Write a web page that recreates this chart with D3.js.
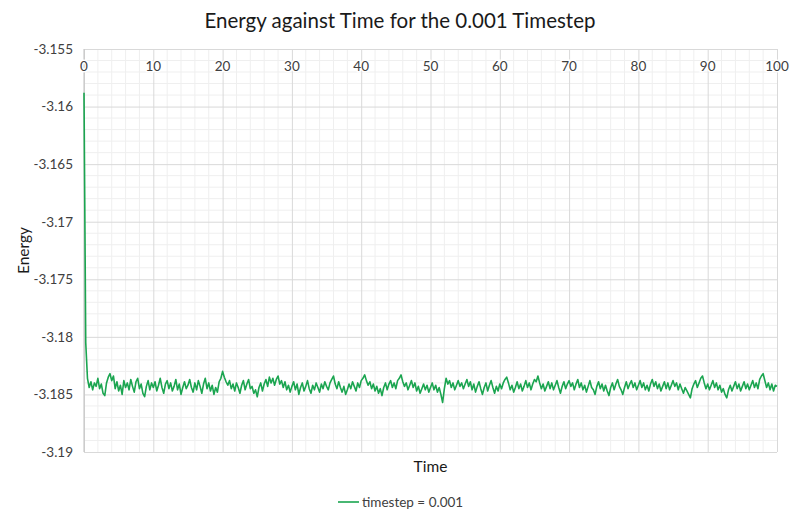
<!DOCTYPE html>
<html>
<head>
<meta charset="utf-8">
<script src="https://cdn.jsdelivr.net/npm/d3@7"></script>
<style>
  body { margin: 0; background: #fff; }
  svg { display: block; font-family: Lato, "Open Sans", sans-serif; }
</style>
</head>
<body>
<div id="chart"></div>
<script>
// ---- data ----
const chartTitle = "Energy against Time for the 0.001 Timestep";
const seriesName = "timestep = 0.001";
const xTicks = [0, 10, 20, 30, 40, 50, 60, 70, 80, 90, 100];
const yTicks = [-3.155, -3.16, -3.165, -3.17, -3.175, -3.18, -3.185, -3.19];
const sampleStep = 0.25; // energy sampled every 0.25 time units, starting at t = 0

const energy = [
  // t 0 - 5
  -3.1588,-3.1805,-3.1836,-3.1844,-3.1839,-3.1846,-3.1840,-3.1843,-3.1836,-3.1845,-3.1841,-3.1849,-3.1851,-3.1840,-3.1835,-3.1832,-3.1838,-3.1834,-3.1845,-3.1839,-3.1847,
  // t 5.25 - 10
  -3.1842,-3.1850,-3.1838,-3.1844,-3.1840,-3.1846,-3.1837,-3.1843,-3.1848,-3.1839,-3.1836,-3.1845,-3.1841,-3.1849,-3.1852,-3.1843,-3.1838,-3.1846,-3.1840,-3.1844,
  // t 10.25 - 15
  -3.1839,-3.1847,-3.1842,-3.1836,-3.1844,-3.1849,-3.1841,-3.1838,-3.1845,-3.1840,-3.1847,-3.1843,-3.1837,-3.1846,-3.1841,-3.1850,-3.1844,-3.1839,-3.1845,-3.1842,
  // t 15.25 - 20
  -3.1837,-3.1844,-3.1848,-3.1840,-3.1846,-3.1838,-3.1843,-3.1849,-3.1841,-3.1836,-3.1845,-3.1840,-3.1847,-3.1842,-3.1850,-3.1844,-3.1848,-3.1839,-3.1836,-3.1830,
  // t 20.25 - 25
  -3.1835,-3.1839,-3.1842,-3.1838,-3.1845,-3.1841,-3.1847,-3.1840,-3.1844,-3.1849,-3.1842,-3.1838,-3.1846,-3.1841,-3.1837,-3.1845,-3.1843,-3.1849,-3.1846,-3.1852,
  // t 25.25 - 30
  -3.1844,-3.1840,-3.1847,-3.1841,-3.1837,-3.1843,-3.1835,-3.1840,-3.1836,-3.1842,-3.1837,-3.1834,-3.1841,-3.1838,-3.1844,-3.1839,-3.1846,-3.1842,-3.1848,-3.1843,
  // t 30.25 - 35
  -3.1839,-3.1846,-3.1841,-3.1850,-3.1844,-3.1840,-3.1847,-3.1843,-3.1838,-3.1845,-3.1849,-3.1842,-3.1846,-3.1840,-3.1844,-3.1848,-3.1841,-3.1845,-3.1839,-3.1843,
  // t 35.25 - 40
  -3.1846,-3.1840,-3.1837,-3.1834,-3.1841,-3.1845,-3.1839,-3.1844,-3.1848,-3.1843,-3.1850,-3.1846,-3.1841,-3.1845,-3.1839,-3.1843,-3.1847,-3.1840,-3.1844,-3.1838,
  // t 40.25 - 45
  -3.1836,-3.1833,-3.1838,-3.1842,-3.1839,-3.1845,-3.1841,-3.1847,-3.1843,-3.1849,-3.1845,-3.1851,-3.1844,-3.1840,-3.1846,-3.1841,-3.1838,-3.1844,-3.1840,-3.1845,
  // t 45.25 - 50
  -3.1838,-3.1836,-3.1833,-3.1839,-3.1843,-3.1840,-3.1846,-3.1842,-3.1838,-3.1844,-3.1840,-3.1847,-3.1843,-3.1849,-3.1845,-3.1841,-3.1846,-3.1842,-3.1848,-3.1844,
  // t 50.25 - 55
  -3.1840,-3.1846,-3.1842,-3.1848,-3.1844,-3.1850,-3.1857,-3.1845,-3.1836,-3.1841,-3.1838,-3.1844,-3.1840,-3.1846,-3.1842,-3.1838,-3.1843,-3.1840,-3.1845,-3.1841,
  // t 55.25 - 60
  -3.1837,-3.1843,-3.1839,-3.1846,-3.1841,-3.1848,-3.1843,-3.1839,-3.1845,-3.1850,-3.1844,-3.1840,-3.1847,-3.1842,-3.1838,-3.1844,-3.1849,-3.1843,-3.1847,-3.1841,
  // t 60.25 - 65
  -3.1845,-3.1840,-3.1837,-3.1835,-3.1840,-3.1846,-3.1842,-3.1848,-3.1844,-3.1839,-3.1845,-3.1841,-3.1847,-3.1843,-3.1838,-3.1844,-3.1840,-3.1846,-3.1841,-3.1837,
  // t 65.25 - 70
  -3.1839,-3.1834,-3.1840,-3.1845,-3.1841,-3.1847,-3.1843,-3.1839,-3.1845,-3.1840,-3.1846,-3.1842,-3.1838,-3.1844,-3.1849,-3.1843,-3.1839,-3.1845,-3.1841,-3.1838,
  // t 70.25 - 75
  -3.1843,-3.1840,-3.1846,-3.1841,-3.1837,-3.1844,-3.1840,-3.1846,-3.1842,-3.1848,-3.1843,-3.1838,-3.1844,-3.1846,-3.1850,-3.1843,-3.1839,-3.1845,-3.1841,-3.1847,
  // t 75.25 - 80
  -3.1842,-3.1847,-3.1851,-3.1844,-3.1840,-3.1846,-3.1841,-3.1837,-3.1843,-3.1846,-3.1850,-3.1844,-3.1839,-3.1845,-3.1841,-3.1838,-3.1844,-3.1840,-3.1846,-3.1842,
  // t 80.25 - 85
  -3.1838,-3.1844,-3.1840,-3.1846,-3.1842,-3.1847,-3.1841,-3.1837,-3.1843,-3.1839,-3.1845,-3.1841,-3.1847,-3.1843,-3.1839,-3.1845,-3.1840,-3.1846,-3.1842,-3.1838,
  // t 85.25 - 90
  -3.1843,-3.1840,-3.1846,-3.1841,-3.1845,-3.1849,-3.1844,-3.1847,-3.1850,-3.1853,-3.1845,-3.1841,-3.1838,-3.1844,-3.1840,-3.1836,-3.1834,-3.1840,-3.1845,-3.1841,
  // t 90.25 - 95
  -3.1846,-3.1842,-3.1838,-3.1844,-3.1840,-3.1846,-3.1842,-3.1848,-3.1845,-3.1850,-3.1853,-3.1846,-3.1842,-3.1847,-3.1843,-3.1839,-3.1845,-3.1841,-3.1847,-3.1843,
  // t 95.25 - 100
  -3.1839,-3.1845,-3.1841,-3.1846,-3.1842,-3.1838,-3.1844,-3.1840,-3.1845,-3.1837,-3.1834,-3.1832,-3.1838,-3.1844,-3.1840,-3.1846,-3.1841,-3.1847,-3.1842,-3.1843
];

// ---- layout ----
const width = 800, height = 523;
const margin = ({ top: 49, right: 23, bottom: 71, left: 84 });
const lineColor = "#1ba550";

const xScale = d3.scaleLinear().domain([0, 100]).range([margin.left, width - margin.right]);
const yScale = d3.scaleLinear().domain([-3.19, -3.155]).range([height - margin.bottom, margin.top]);

const svg = d3.select("#chart").append("svg")
  .attr("width", width)
  .attr("height", height);

// minor grid
svg.append("g")
  .selectAll("line")
  .data(d3.range(0, 101, 2).filter(d => d % 10 !== 0))
  .join("line")
  .attr("x1", d => xScale(d)).attr("x2", d => xScale(d))
  .attr("y1", margin.top).attr("y2", height - margin.bottom)
  .attr("stroke", "#efefef");

svg.append("g")
  .selectAll("line")
  .data(d3.range(0, 36).map(i => -3.19 + i * 0.001).filter((d, i) => i % 5 !== 0))
  .join("line")
  .attr("x1", margin.left).attr("x2", width - margin.right)
  .attr("y1", d => yScale(d)).attr("y2", d => yScale(d))
  .attr("stroke", "#efefef");

// major grid
svg.append("g")
  .call(d3.axisBottom(xScale).tickValues(xTicks).tickSize(height - margin.bottom - margin.top).tickFormat(""))
  .attr("transform", `translate(0,${margin.top})`)
  .call(g => g.select(".domain").remove())
  .call(g => g.selectAll(".tick line").attr("stroke", "#d9d9d9"));

svg.append("g")
  .attr("transform", `translate(${margin.left},0)`)
  .call(d3.axisRight(yScale).tickValues(yTicks).tickSize(width - margin.left - margin.right).tickFormat(""))
  .call(g => g.select(".domain").remove())
  .call(g => g.selectAll(".tick line").attr("stroke", "#d9d9d9"));

// vertical axis line at x = 0
svg.append("line")
  .attr("x1", xScale(0)).attr("x2", xScale(0))
  .attr("y1", margin.top).attr("y2", height - margin.bottom)
  .attr("stroke", "#bfbfbf");

// y tick labels (plain hyphen, as in the original)
svg.append("g")
  .attr("transform", `translate(${margin.left},0)`)
  .call(d3.axisLeft(yScale).tickValues(yTicks).tickSize(0).tickPadding(11).tickFormat(d => String(+d.toFixed(3))))
  .call(g => g.select(".domain").remove())
  .call(g => g.selectAll("text").attr("fill", "#404040").style("font-size", "13.5px").style("font-family", "Lato, sans-serif"));

// x tick labels (sit just under the top edge)
svg.append("g")
  .selectAll("text")
  .data(xTicks)
  .join("text")
  .attr("x", d => xScale(d))
  .attr("y", 71)
  .attr("text-anchor", "middle")
  .attr("fill", "#404040")
  .attr("stroke", "#fff")
  .attr("stroke-width", 3)
  .attr("paint-order", "stroke")
  .style("font-size", "13.5px")
  .text(d => d);

// series line
const line = d3.line()
  .x((d, i) => xScale(i * sampleStep))
  .y(d => yScale(d));

svg.append("path")
  .datum(energy)
  .attr("fill", "none")
  .attr("stroke", lineColor)
  .attr("stroke-width", 1.6)
  .attr("stroke-linejoin", "round")
  .attr("d", line);

// titles
svg.append("text")
  .attr("x", 400).attr("y", 28)
  .attr("text-anchor", "middle")
  .attr("fill", "#1a1a1a")
  .style("font-size", "20.5px")
  .text(chartTitle);

svg.append("text")
  .attr("transform", `translate(29,${(margin.top + height - margin.bottom) / 2}) rotate(-90)`)
  .attr("text-anchor", "middle")
  .attr("fill", "#1a1a1a")
  .style("font-size", "15.5px")
  .text("Energy");

svg.append("text")
  .attr("x", (margin.left + width - margin.right) / 2)
  .attr("y", 472)
  .attr("text-anchor", "middle")
  .attr("fill", "#1a1a1a")
  .style("font-size", "15.5px")
  .text("Time");

// legend
const legend = svg.append("g").attr("transform", "translate(338,502)");
legend.append("line")
  .attr("x1", 0).attr("x2", 21)
  .attr("stroke", lineColor)
  .attr("stroke-width", 1.6);
legend.append("text")
  .attr("x", 24).attr("y", 5)
  .attr("fill", "#404040")
  .style("font-size", "13.5px")
  .text(seriesName);
</script>
</body>
</html>
